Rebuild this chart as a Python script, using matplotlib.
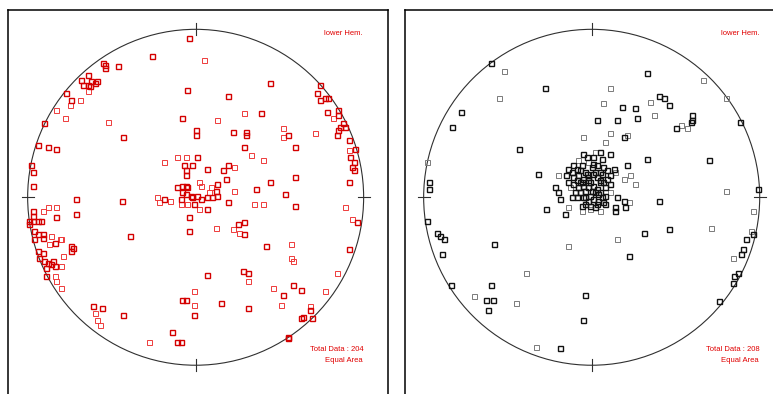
import numpy as np
import matplotlib
matplotlib.use("Agg")
import matplotlib.pyplot as plt
from matplotlib.patches import Circle

# ---- data: projected pole positions (percent of net radius) ----
left_dark = [(-4,95),(-26,84),(-55,80),(-54,79),(-54,77),(-46,78),(-64,73),(-68,70),(-67,67),(-64,67),(-63,66),(-62,69),(-59,69),(-60,68),(-77,62),(-74,58),(-90,44),(-94,31),(-88,30),(-83,29),(-43,36),(-5,64),(19,60),(44,68),(74,67),(72,62),(74,58),(77,59),(79,59),(78,51),(39,50),(-8,47),(0,40),(0,37),(22,39),(30,39),(30,37),(29,30),(55,37),(59,30),(85,52),(85,49),(88,44),(86,42),(85,40),(84,37),(89,42),(91,34),(95,29),(92,24),(94,21),(93,18),(94,16),(91,9),(-98,19),(-97,15),(-97,7),(1,24),(-7,19),(-2,19),(-6,16),(7,17),(19,19),(16,16),(-6,13),(18,11),(13,8),(12,4),(-11,6),(-8,7),(-6,7),(-5,6),(-8,3),(-6,2),(-3,1),(-2,0),(1,1),(-1,-4),(3,-1),(7,0),(10,0),(13,1),(-19,-1),(-9,-1),(7,-7),(19,-3),(44,9),(59,12),(36,5),(53,2),(-71,-1),(-44,-2),(59,-5),(96,-15),(-4,-12),(-4,-20),(25,-16),(29,-15),(29,-22),(-39,-23),(-71,-10),(-83,-12),(-97,-8),(-97,-11),(-99,-14),(-99,-16),(-97,-14),(-94,-14),(-92,-14),(-96,-20),(-94,-22),(-91,-22),(-91,-24),(-84,-27),(-96,-25),(-94,-32),(-91,-33),(-93,-36),(-90,-38),(-88,-39),(-86,-40),(-85,-38),(-84,-41),(-74,-29),(-73,-30),(-74,-32),(-89,-47),(-89,-42),(42,-29),(91,-31),(7,-46),(28,-44),(31,-45),(52,-58),(58,-52),(63,-55),(-8,-61),(-6,-61),(-1,-70),(15,-63),(31,-66),(-61,-65),(-56,-66),(-43,-70),(68,-67),(64,-71),(63,-72),(69,-72),(55,-83),(55,-84),(-14,-80),(-11,-86),(-9,-86)]
left_light = [(5,82),(-64,63),(-75,55),(-69,58),(-83,52),(-78,47),(-52,45),(29,50),(13,46),(52,41),(52,36),(71,38),(82,47),(91,28),(-19,21),(-11,24),(-6,24),(23,18),(2,9),(3,7),(9,6),(8,3),(-23,0),(-22,-3),(-15,-2),(-9,-4),(-5,-4),(2,-7),(33,25),(40,22),(23,4),(35,-4),(40,-4),(89,-6),(93,-13),(12,-18),(22,-19),(26,-21),(-83,-6),(-88,-6),(-91,-8),(-86,-23),(-81,-25),(-80,-25),(-87,-28),(-80,-41),(-79,-35),(-84,-47),(-83,-50),(-80,-54),(57,-28),(57,-36),(58,-38),(31,-50),(-1,-56),(46,-54),(77,-56),(-1,-64),(51,-64),(84,-45),(-60,-69),(-59,-73),(-57,-76),(68,-65),(-28,-86)]

right_dark = [(-60,80),(-28,65),(-78,51),(-83,42),(33,74),(18,54),(26,53),(40,60),(43,59),(46,55),(3,46),(15,46),(27,47),(60,49),(60,46),(59,45),(50,41),(88,45),(19,36),(-43,29),(-97,9),(-97,5),(-32,14),(33,23),(70,22),(21,19),(99,5),(40,-2),(19,-2),(20,-6),(14,-6),(14,-8),(15,0),
              (-5,26),(5,27),(11,26),(6,23),(1,24),(-11,19),(-14,17),(-7,16),(-4,15),(0,18),(3,19),(7,18),(9,16),(-15,13),(-14,9),(-11,12),(-8,13),(-5,11),(-2,10),(1,14),(3,12),(6,14),(9,11),(11,13),(-11,8),(-8,6),(-5,7),(-2,6),(1,7),(5,9),(8,6),(-7,3),(-4,4),(-1,1),(2,3),(5,3),(8,1),(-9,0),(-5,0),(-2,-2),(1,-1),(4,-2),(7,-3),(-22,6),(-20,3),(-19,-1),(-12,0),(-6,-5),(-1,-5),(8,-4),(-16,-10),(-27,-7),(-6,19),(-3,24),(-9,17),(-3,14),(2,15),(5,10),(7,9),(-9,10),(-6,9),(-1,9),(3,5),(6,0),(-4,-4),(3,-4),(-10,3),(1,20),(-12,15),(-4,0),(11,8),(13,17),(2,-6),(5,15),(-2,12),(-7,9),(0,4),(4,2),
              (96,-22),(92,-25),(90,-31),(89,-34),(87,-45),(85,-47),(84,-51),(76,-62),(46,-19),(31,-21),(22,-35),(-98,-14),(-92,-21),(-90,-23),(-88,-25),(-89,-34),(-58,-28),(-84,-52),(-60,-52),(-63,-61),(-59,-61),(-62,-67),(-4,-58),(-5,-73),(-19,-90)]
right_light = [(-52,75),(-55,59),(11,65),(66,70),(80,59),(7,56),(35,57),(37,49),(57,41),(53,43),(-5,36),(11,38),(8,33),(21,37),(-98,21),(23,13),(26,8),(19,11),(14,15),(80,4),(22,-3),(2,27),(-2,21),(-8,22),(-20,13),(-14,-6),(-6,-8),(-1,-7),(5,-8),(11,3),(-13,6),(96,-8),(95,-20),(84,-36),(71,-18),(15,-25),(-14,-29),(-70,-59),(-45,-63),(-39,-45),(-33,-89)]

totals = [204, 208]
hemisphere_label = "lower Hem."
projection_label = "Equal Area"

TEXT_RED = "#e00000"
FONT = ["Liberation Sans", "DejaVu Sans"]

fig = plt.figure(figsize=(7.73, 3.94), dpi=100)

def panel(rect, xlim, dark, light, dark_col, light_col, total):
    ax = fig.add_axes(rect)
    ax.set_xlim(*xlim)
    ax.set_ylim(-120.7, 111.5)
    ax.set_xticks([]); ax.set_yticks([])
    for s in ax.spines.values():
        s.set_linewidth(1.1)
        s.set_color("black")
    ax.add_patch(Circle((0, 0), 100, fill=False, ec="#303030", lw=0.8, zorder=1))
    for ang in (0, 90, 180, 270):
        c, s_ = np.cos(np.radians(ang)), np.sin(np.radians(ang))
        ax.plot([96.5 * c, 103.5 * c], [96.5 * s_, 103.5 * s_], color="#303030", lw=0.8, zorder=1)
    d = np.array(dark, dtype=float)
    l = np.array(light, dtype=float)
    ax.plot(l[:, 0], l[:, 1], ls="none", marker="s", ms=3.6, mfc="none",
            mec=light_col, mew=0.7, zorder=2)
    ax.plot(d[:, 0], d[:, 1], ls="none", marker="s", ms=3.6, mfc="none",
            mec=dark_col, mew=1.0, zorder=3)
    ax.text(99.6, 97.8, hemisphere_label, ha="right", va="center", fontsize=5.5,
            color=TEXT_RED, family=FONT)
    ax.text(100.2, -90.9, f"Total Data : {total}", ha="right", va="center", fontsize=5.5,
            color=TEXT_RED, family=FONT)
    ax.text(99.6, -97.4, projection_label, ha="right", va="center", fontsize=5.5,
            color=TEXT_RED, family=FONT)
    return ax

panel([8/773, -6/394, 380/773, 390/394], (-111.7, 114.5),
      left_dark, left_light, "#d40000", "#ee3b3b", totals[0])
panel([405/773, -6/394, 371/773, 390/394], (-111.1, 109.7),
      right_dark, right_light, "#111111", "#7a7a7a", totals[1])

fig.savefig("out.png", dpi=100)
